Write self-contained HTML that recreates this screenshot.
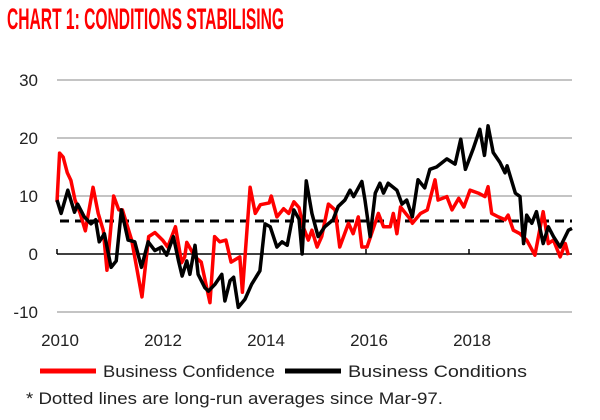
<!DOCTYPE html>
<html><head><meta charset="utf-8">
<style>
body{margin:0;background:#fff;width:600px;height:420px;overflow:hidden;font-family:"Liberation Sans",sans-serif}
#title{position:absolute;left:7px;top:3px;font-family:"Liberation Sans Narrow","Liberation Sans",sans-serif;font-weight:bold;font-size:30px;color:#f00;white-space:nowrap;transform-origin:0 0;transform:scaleX(0.52)}
svg{position:absolute;left:0;top:0}
</style></head><body>
<div id="title">CHART 1: CONDITIONS STABILISING</div>
<svg id="chart" width="600" height="420"></svg>
<script>
const yTicks=[30,20,10,0,-10];
const xTicks=[2010,2012,2014,2016,2018];
const longRunAvg=[5.7];
const confDates=[2010.0,2010.05,2010.12,2010.2,2010.27,2010.35,2010.45,2010.55,2010.7,2010.8,2010.9,2010.97,2011.1,2011.2,2011.27,2011.45,2011.65,2011.78,2011.9,2012.05,2012.15,2012.3,2012.42,2012.48,2012.52,2012.68,2012.8,2012.97,2013.06,2013.16,2013.28,2013.38,2013.55,2013.6,2013.75,2013.85,2013.95,2014.12,2014.16,2014.27,2014.4,2014.5,2014.6,2014.7,2014.78,2014.88,2014.95,2015.05,2015.14,2015.27,2015.4,2015.49,2015.66,2015.75,2015.85,2015.92,2016.02,2016.24,2016.34,2016.47,2016.53,2016.6,2016.67,2016.86,2016.9,2017.06,2017.19,2017.34,2017.4,2017.57,2017.67,2017.8,2017.9,2018.02,2018.18,2018.31,2018.37,2018.44,2018.57,2018.7,2018.76,2018.86,2018.99,2019.12,2019.28,2019.44,2019.54,2019.64,2019.77,2019.87,2019.93];
const confValues=[9,17.4,16.7,14,12.7,9.3,7,4,11.5,7,4,-2.8,10,7.6,7.6,2.4,-7.4,3,3.7,2.4,1.2,4.7,-1.5,-0.5,2,-0.5,-1.4,-8.4,3,2.1,2.4,-1.4,-0.5,-6.6,11.5,7,8.5,8.8,10,6.4,7.8,7,9,8,4.7,2.4,4.1,1.2,3,8.6,7.6,1.2,5.3,3.5,6.4,1.2,1.2,7,4.7,4.7,7,3.5,8.1,6,5.3,7,7.6,12.8,9.3,9.9,7.6,9.6,8.1,11,10.5,9.9,11.6,7,6.4,5.9,6.7,4.1,3.5,2.4,-0.2,7.3,1.8,2.4,-0.5,1.8,-0.2];
const condDates=[2010.0,2010.08,2010.21,2010.34,2010.4,2010.53,2010.66,2010.75,2010.82,2010.92,2011.05,2011.15,2011.25,2011.38,2011.51,2011.64,2011.77,2011.9,2012.03,2012.13,2012.26,2012.36,2012.43,2012.52,2012.58,2012.68,2012.74,2012.87,2012.94,2013.07,2013.2,2013.26,2013.36,2013.43,2013.52,2013.65,2013.78,2013.94,2014.04,2014.14,2014.27,2014.37,2014.47,2014.6,2014.7,2014.76,2014.84,2014.95,2015.07,2015.2,2015.36,2015.46,2015.59,2015.69,2015.76,2015.92,2015.98,2016.08,2016.18,2016.27,2016.34,2016.43,2016.6,2016.7,2016.79,2016.9,2017.01,2017.14,2017.24,2017.37,2017.57,2017.73,2017.84,2017.93,2018.08,2018.21,2018.3,2018.37,2018.47,2018.6,2018.7,2018.74,2018.9,2018.99,2019.06,2019.12,2019.22,2019.31,2019.44,2019.54,2019.64,2019.77,2019.93,2020.0];
const condValues=[9.3,7,11,7.2,8.6,6.4,5.2,5.9,2.1,3.5,-2.3,-1.2,7.6,2.4,2.1,-2.3,2.1,0.6,1.2,-0.2,3,-1.2,-3.8,-1.2,-3.5,1.5,-3.5,-5.8,-6.4,-5.2,-3.5,-8.1,-4.6,-4,-9.2,-7.8,-5.2,-2.9,5.2,4.7,1.2,2.1,1.5,7.6,6,0,12.6,7,3,4.7,5.9,8.2,9.3,11,9.9,12.5,9.3,3,10.5,12.2,10.5,12.2,11,8.6,9.3,6.4,12.8,11.4,14.6,15,16.4,15.5,19.8,14.6,18.1,21.5,17,22.1,17.5,15.8,14,15.2,10.5,9.9,1.8,6.7,5.3,7.3,1.8,4.7,3,1.2,4.1,4.4];

const svg=document.getElementById('chart');
const NS='http://www.w3.org/2000/svg';
const X0=57,X1=572,Y0=254;
const xs=y=>X0+(y-2010)*51.5;
const ys=v=>Y0-v*5.8;
function mk(tag,attrs,parent){const e=document.createElementNS(NS,tag);for(const k in attrs)e.setAttribute(k,attrs[k]);(parent||svg).appendChild(e);return e;}
yTicks.forEach(t=>{
  if(t!==0){const g=mk('line',{x1:X0,x2:X1,y1:ys(t),y2:ys(t),stroke:'#a0a0a0','stroke-width':1.3});
  
  }
  const l=mk('text',{x:38,y:ys(t)+6,'text-anchor':'end','font-size':17,fill:'#222'});
  l.textContent=t;
  
  
});
const ax=mk('line',{x1:X0,x2:X1,y1:Y0,y2:Y0,stroke:'#000','stroke-width':1.5});


xTicks.forEach(t=>{
  const tk=mk('line',{x1:xs(t),x2:xs(t),y1:Y0,y2:Y0-5,stroke:'#000','stroke-width':1.5});
  
  
  const l=mk('text',{x:xs(t)+3,y:346,'text-anchor':'middle','font-size':17,fill:'#222'});
  l.textContent=t;
  
  
});
const avg=mk('line',{x1:X0+3,x2:X1,y1:ys(longRunAvg[0]),y2:ys(longRunAvg[0]),stroke:'#000','stroke-width':3,'stroke-dasharray':'9 6'});


function series(d,v,color,name){
  const p=mk('polyline',{points:d.map((x,i)=>xs(x)+','+ys(v[i])).join(' '),fill:'none',stroke:color,'stroke-width':3.5,'stroke-linejoin':'round'});
  
  
}
series(confDates,confValues,'#f00','business-confidence-line');
series(condDates,condValues,'#000','business-conditions-line');
const l1=mk('line',{x1:40,x2:96,y1:371,y2:371,stroke:'#f00','stroke-width':5});


const t1=mk('text',{x:103,y:377,'font-size':17,fill:'#222',textLength:172,lengthAdjust:'spacingAndGlyphs'});t1.textContent='Business Confidence';


const l2=mk('line',{x1:285,x2:341,y1:371,y2:371,stroke:'#000','stroke-width':5});


const t2=mk('text',{x:348,y:377,'font-size':17,fill:'#222',textLength:179,lengthAdjust:'spacingAndGlyphs'});t2.textContent='Business Conditions';


const fn=mk('text',{x:26,y:404,'font-size':17,fill:'#222',textLength:417,lengthAdjust:'spacingAndGlyphs'});fn.textContent='* Dotted lines are long-run averages since Mar-97.';


</script>
</body></html>
